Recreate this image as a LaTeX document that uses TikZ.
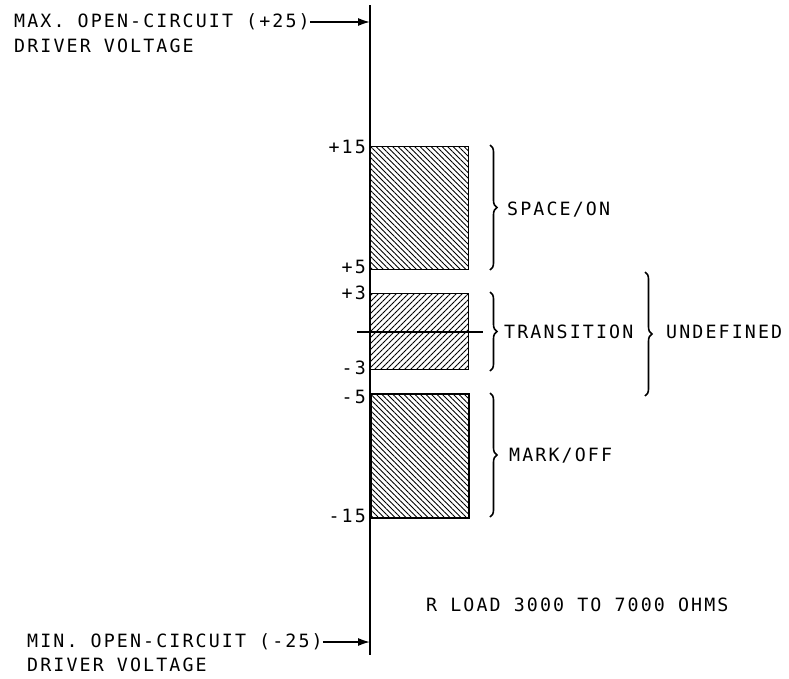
\documentclass[tikz,border=0pt]{standalone}
\usepackage{fontspec}
\setmainfont{DejaVu Sans Mono}[LetterSpace=11.5]
\usetikzlibrary{patterns.meta,decorations.pathreplacing,arrows.meta}
\begin{document}
\begin{tikzpicture}[x=1pt,y=-1pt,
  lbl/.style={inner sep=0pt,font=\fontsize{18.3}{18.3}\selectfont},
  tick/.style={lbl,anchor=east},
  bar/.style={draw,line width=1.8pt,anchor=north west,minimum width=98pt,inner sep=0pt},
  bs/.style={pattern={Lines[angle=-45,distance=3.8891pt,line width=1pt]}},
  fs/.style={pattern={Lines[angle=45,distance=4.2426pt,line width=1pt]}},
  brc/.style={decorate,decoration={brace,amplitude=7pt},line width=1.6pt},
  arr/.style={-{Latex[length=12pt,width=8pt]},line width=1.6pt}]
\useasboundingbox (0,0) rectangle (789,678);
% axis
\coordinate (atop) at (370,5);
\coordinate (abot) at (370,655);
\draw[line width=2pt] (atop) -- (abot);
\coordinate (amax) at (370,22);
\coordinate (amin) at (370,642);
% bars
\node[bar,bs,minimum height=123pt] (space) at (370,146) {};
\node[bar,fs,minimum height=76pt] (trans) at (370,293) {};
\node[bar,bs,minimum height=124pt] (mark) at (370,393) {};
\coordinate (zl) at (357,332);
\coordinate (zr) at (483,332);
\draw[line width=1.6pt] (zl) -- (zr);
% tick labels
\node[tick] (t15) at (366,147) {+15};
\node[tick] (t5) at (366,267) {+5};
\node[tick] (t3) at (366,293) {+3};
\node[tick] (tm3) at (366,368) {-3};
\node[tick] (tm5) at (366,397) {-5};
\node[tick] (tm15) at (366,516) {-15};
% braces
\coordinate (b1a) at (490,145); \coordinate (b1b) at (490,270);
\coordinate (b2a) at (490,292); \coordinate (b2b) at (490,371);
\coordinate (b3a) at (490,393); \coordinate (b3b) at (490,517);
\coordinate (b4a) at (645,272); \coordinate (b4b) at (645,396);
\draw[brc] (b1a) -- (b1b);
\draw[brc] (b2a) -- (b2b);
\draw[brc] (b3a) -- (b3b);
\draw[brc] (b4a) -- (b4b);
\node[lbl,anchor=west] (spc) at (507,210) {SPACE/ON};
\node[lbl,anchor=west] (trn) at (504,332) {TRANSITION};
\node[lbl,anchor=west] (und) at (666,332) {UNDEFINED};
\node[lbl,anchor=west] (mrk) at (509,456) {MARK/OFF};
\node[lbl,anchor=west] (rl) at (426,605) {R LOAD 3000 TO 7000 OHMS};
% top/bottom labels
\node[lbl,anchor=west] (max) at (14,21.5) {MAX. OPEN-CIRCUIT (+25)};
\node[lbl,anchor=west] (maxd) at (14,45.5) {DRIVER VOLTAGE};
\node[lbl,anchor=west] (min) at (27,641.5) {MIN. OPEN-CIRCUIT (-25)};
\node[lbl,anchor=west] (mind) at (27,665) {DRIVER VOLTAGE};
\draw[arr] (max.east |- amax) -- (amax);
\draw[arr] (min.east |- amin) -- (amin);
\end{tikzpicture}
\end{document}
